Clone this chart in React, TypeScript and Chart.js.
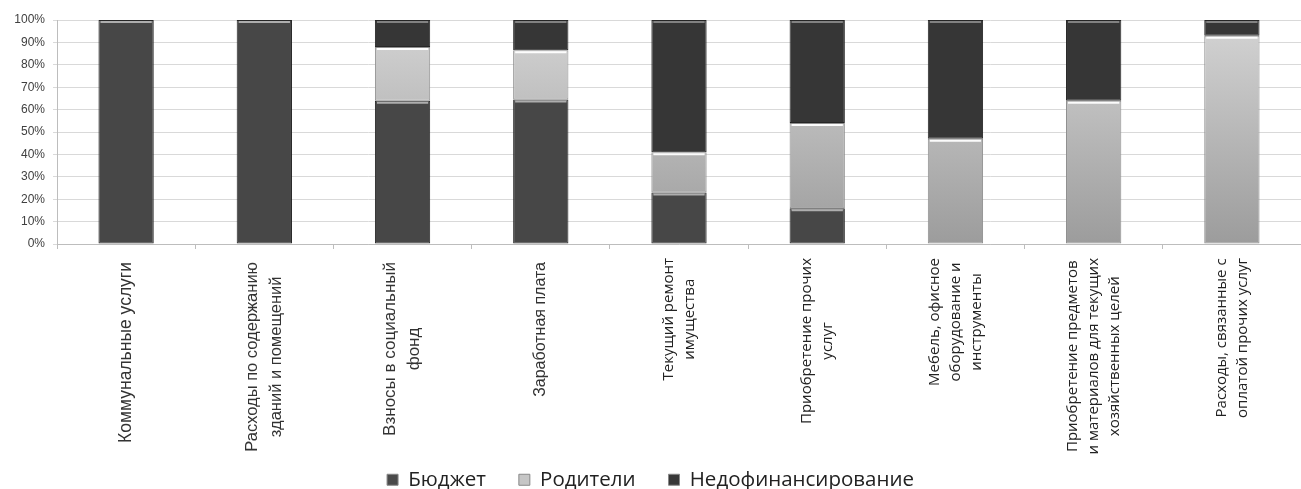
import React, { useEffect, useRef } from "react";
import { Chart, registerables } from "chart.js";

Chart.register(...registerables);

const categories: string[][] = [
  ["Коммунальные услуги"],
  ["Расходы по содержанию", "зданий и помещений"],
  ["Взносы в социальный", "фонд"],
  ["Заработная плата"],
  ["Текущий ремонт", "имущества"],
  ["Приобретение прочих", "услуг"],
  ["Мебель, офисное", "оборудование и", "инструменты"],
  ["Приобретение предметов", "и материалов для текущих", "хозяйственных целей"],
  ["Расходы, связанные с", "оплатой прочих услуг"],
];

const seriesNames = ["Бюджет", "Родители", "Недофинансирование"];
const budget = [100, 100, 64, 64.5, 23, 16, 0, 0, 0];
const parents = [0, 0, 24, 22, 18, 38, 47, 64, 93];
const deficit = [0, 0, 12, 13.5, 59, 46, 53, 36, 7];

const yTicks = [0, 10, 20, 30, 40, 50, 60, 70, 80, 90, 100];

const W = 1301;
const H = 489;
const AREA_BOTTOM = 244;
const LEGEND_SHIFT = 11;

// label typography (the source mixes two typefaces and sizes)
const labelStyle = (i: number) => {
  const arialSizes = [17.5, 16.5, 17, 16];
  return i < 4
    ? { font: `${arialSizes[i]}px "Liberation Sans"`, lineH: 24, top: 18, color: "#333" }
    : { font: '15px "Open Sans"', lineH: 21, top: 14, color: "#222" };
};

const xLabelPlugin = {
  id: "xLabels",
  afterDraw(chart: any) {
    const ctx = chart.ctx;
    const xs = chart.scales.x;
    ctx.save();
    ctx.textAlign = "center";
    ctx.textBaseline = "middle";
    categories.forEach((lines, i) => {
      const st = labelStyle(i);
      ctx.font = st.font;
      ctx.fillStyle = st.color;
      const x = xs.getPixelForValue(i);
      const maxW = Math.max(...lines.map((l) => ctx.measureText(l).width));
      const cy = xs.top + st.top + maxW / 2;
      const n = lines.length;
      lines.forEach((l, j) => {
        const lx = x + (j - (n - 1) / 2) * st.lineH;
        ctx.save();
        ctx.translate(lx, cy);
        ctx.rotate(-Math.PI / 2);
        ctx.fillText(l, 0, 0);
        ctx.restore();
      });
    });
    ctx.restore();
  },
};

const highlightPlugin = {
  id: "highlights",
  afterDatasetsDraw(chart: any) {
    const ctx = chart.ctx;
    const colors = ["rgba(200,200,200,0.8)", "rgba(255,255,255,0.95)", "rgba(150,150,150,0.8)"];
    chart.data.datasets.forEach((ds: any, di: number) => {
      const meta = chart.getDatasetMeta(di);
      meta.data.forEach((el: any, i: number) => {
        if (!ds.data[i]) return;
        const { x, y, width } = el.getProps(["x", "y", "width"], true);
        ctx.save();
        ctx.strokeStyle = colors[di];
        ctx.lineWidth = 2;
        ctx.beginPath();
        ctx.moveTo(x - width / 2 + 2, y + 2);
        ctx.lineTo(x + width / 2 - 2, y + 2);
        ctx.stroke();
        ctx.restore();
      });
    });
  },
};

export default function App() {
  const ref = useRef<HTMLCanvasElement | null>(null);
  useEffect(() => {
    if (!ref.current) return;
    const c = ref.current.getContext("2d")!;
    const grad = c.createLinearGradient(0, 20, 0, AREA_BOTTOM);
    grad.addColorStop(0, "#d4d4d4");
    grad.addColorStop(1, "#9c9c9c");
    const fills = ["#474747", grad, "#363636"];
    const legendFills = ["#4a4a4a", "#c6c6c6", "#383838"];
    const chart = new Chart(ref.current, {
      type: "bar",
      data: {
        labels: categories.map((l) => l.join(" ")),
        datasets: [budget, parents, deficit].map((d, i) => ({
          label: seriesNames[i],
          data: d,
          backgroundColor: fills[i],
          borderColor: i === 1 ? "#8e8e8e" : "#262626",
          borderWidth: 1,
          borderSkipped: false,
          categoryPercentage: 1,
          barPercentage: 0.4,
        })),
      },
      options: {
        animation: false,
        responsive: true,
        maintainAspectRatio: false,
        layout: { padding: { top: 20, right: 0, left: 0, bottom: -LEGEND_SHIFT } },
        plugins: {
          tooltip: { enabled: false },
          legend: {
            position: "bottom",
            labels: {
              font: { family: "Open Sans", size: 20.5 },
              color: "#222",
              boxWidth: 11,
              boxHeight: 11,
              padding: 33,
              generateLabels: (ch: any) =>
                ch.data.datasets.map((ds: any, i: number) => ({
                  text: ds.label,
                  fillStyle: legendFills[i],
                  strokeStyle: "#888",
                  lineWidth: 1,
                  hidden: false,
                  datasetIndex: i,
                  fontColor: "#222",
                })),
            },
          },
        },
        scales: {
          x: {
            stacked: true,
            ticks: { display: false },
            grid: { drawOnChartArea: false, drawTicks: true, tickLength: 5, color: "#bdbdbd" },
            border: { display: true, color: "#bdbdbd" },
            afterFit: (scale: any) => {
              const lh = scale.chart.legend ? scale.chart.legend.height : 60;
              scale.height = H + LEGEND_SHIFT - AREA_BOTTOM - lh;
            },
          },
          y: {
            stacked: true,
            min: 0,
            max: 100,
            afterBuildTicks: (scale: any) => {
              scale.ticks = yTicks.map((v) => ({ value: v }));
            },
            ticks: {
              callback: (v: any) => v + "%",
              font: { family: "Liberation Sans", size: 12 },
              color: "#404040",
              padding: 8,
            },
            grid: { color: "#d9d9d9", tickLength: 4 },
            border: { display: true, color: "#bdbdbd" },
            afterFit: (scale: any) => {
              scale.width = 57;
            },
          },
        },
      },
      plugins: [xLabelPlugin, highlightPlugin],
    });
    return () => chart.destroy();
  }, []);
  return (
    <div style={{ position: "fixed", left: 0, top: 0, width: W, height: H, background: "#fff" }}>
      <canvas ref={ref} />
    </div>
  );
}
